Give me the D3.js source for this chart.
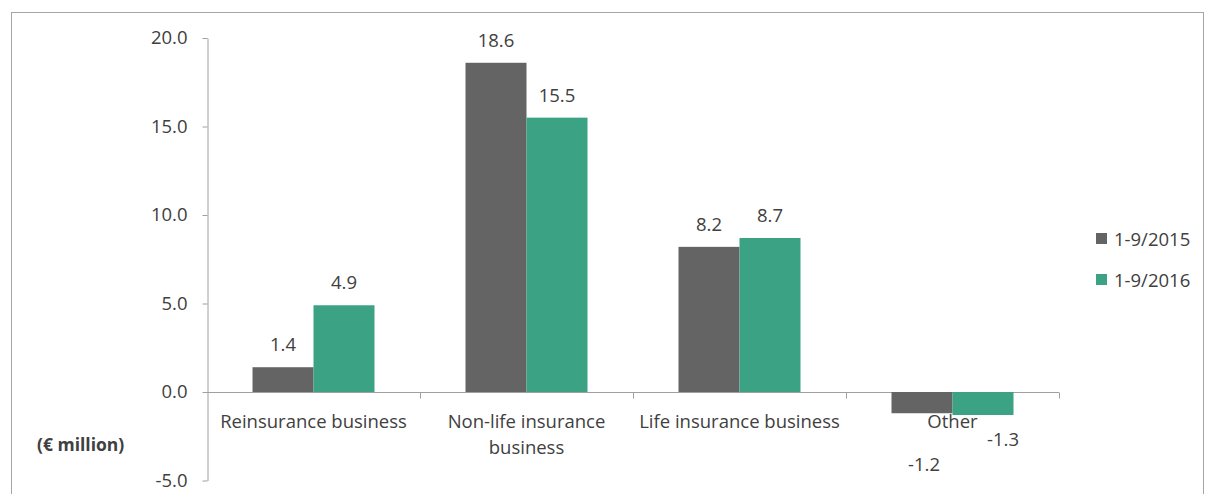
<!DOCTYPE html>
<html><head><meta charset="utf-8">
<script src="https://cdn.jsdelivr.net/npm/d3@7/dist/d3.min.js"></script>
<style>body{margin:0;background:#fff}svg{display:block}text{font-family:"Open Sans","Liberation Sans",sans-serif;fill:#404040}</style>
</head><body><svg id="c" width="1206" height="494"></svg>
<script>
const categories = [["Reinsurance business"], ["Non-life insurance", "business"], ["Life insurance business"], ["Other"]];
const seriesNames = ["1-9/2015", "1-9/2016"];
const values2015 = [1.4, 18.6, 8.2, -1.2];
const values2016 = [4.9, 15.5, 8.7, -1.3];
const yTicks = [-5, 0, 5, 10, 15, 20];
const colors = ["#646464", "#3ba283"];

const fmt = d => d3.format(".1f")(d).replace("\u2212", "-");
const FS = 18.5;

const svg = d3.select("#c");
svg.append("rect").attr("x", 11.5).attr("y", 12.5).attr("width", 1192).attr("height", 500)
  .attr("fill", "none").attr("stroke", "#a6a6a6");

const y = d3.scaleLinear().domain([-5, 20]).range([480.5, 38]);
const x0 = d3.scaleBand().domain(d3.range(categories.length)).range([207, 1059]).paddingInner(0).paddingOuter(0);
const groupW = 122;
const x1 = d3.scaleBand().domain([0, 1]).range([0, groupW]);

// Y axis
const yAxis = d3.axisLeft(y).tickValues(yTicks).tickFormat(fmt).tickSize(5).tickSizeOuter(0);
const gy = svg.append("g").attr("transform", "translate(207.5,0)").call(yAxis);
gy.select(".domain").attr("stroke", "#a0a0a0");
gy.selectAll(".tick line").attr("stroke", "#a0a0a0");
gy.selectAll(".tick text").attr("x", -20).attr("font-size", FS).attr("fill", "#404040")
  .attr("font-family", '"Open Sans","Liberation Sans",sans-serif');

// X axis baseline and ticks
const y0 = Math.round(y(0)) + 0.5;
svg.append("line").attr("x1", 207).attr("x2", 1059).attr("y1", y0).attr("y2", y0).attr("stroke", "#a0a0a0");
const bounds = d3.range(1, categories.length + 1).map(i => i < categories.length ? x0(i) : x0(categories.length - 1) + x0.bandwidth());
svg.selectAll(".xt").data(bounds).join("line")
  .attr("x1", d => Math.round(d) + 0.5).attr("x2", d => Math.round(d) + 0.5)
  .attr("y1", y0).attr("y2", y0 + 6).attr("stroke", "#a0a0a0");

// Bars
const series = [values2015, values2016];
const barX = (i, s) => x0(i) + (x0.bandwidth() - groupW) / 2 + x1(s);
series.forEach((vals, s) => {
  svg.selectAll(".b" + s).data(vals).join("rect")
    .attr("x", (d, i) => barX(i, s))
    .attr("width", x1.bandwidth())
    .attr("y", d => y(Math.max(0, d)))
    .attr("height", d => Math.abs(y(d) - y(0)))
    .attr("fill", colors[s]);
});

// Category labels
categories.forEach((lines, i) => {
  const cx = x0(i) + x0.bandwidth() / 2;
  const t = svg.append("text").attr("text-anchor", "middle").attr("font-size", FS);
  lines.forEach((ln, k) => t.append("tspan").attr("x", cx).attr("y", 428 + k * 26).text(ln));
});

// Value labels (negative labels sit below the category text, as in the source)
const negOffsetY = [58, 31];
const negOffsetX = [2, 20];
series.forEach((vals, s) => {
  svg.selectAll(".l" + s).data(vals).join("text")
    .attr("text-anchor", "middle").attr("font-size", FS)
    .attr("x", (d, i) => barX(i, s) + x1.bandwidth() / 2 + (d < 0 ? negOffsetX[s] : 0))
    .attr("y", d => d >= 0 ? y(d) - 16 : y(d) + negOffsetY[s])
    .text(fmt);
});

// Unit label
svg.append("text").attr("x", 37).attr("y", 451).attr("font-size", 17.5).attr("font-weight", "bold").text("(€ million)");

// Legend
seriesNames.forEach((n, s) => {
  const ly = 239 + s * 41;
  svg.append("rect").attr("x", 1096).attr("y", ly - 6).attr("width", 11).attr("height", 11).attr("fill", colors[s]);
  svg.append("text").attr("x", 1114).attr("y", ly + 7).attr("font-size", FS).text(n);
});
</script></body></html>
